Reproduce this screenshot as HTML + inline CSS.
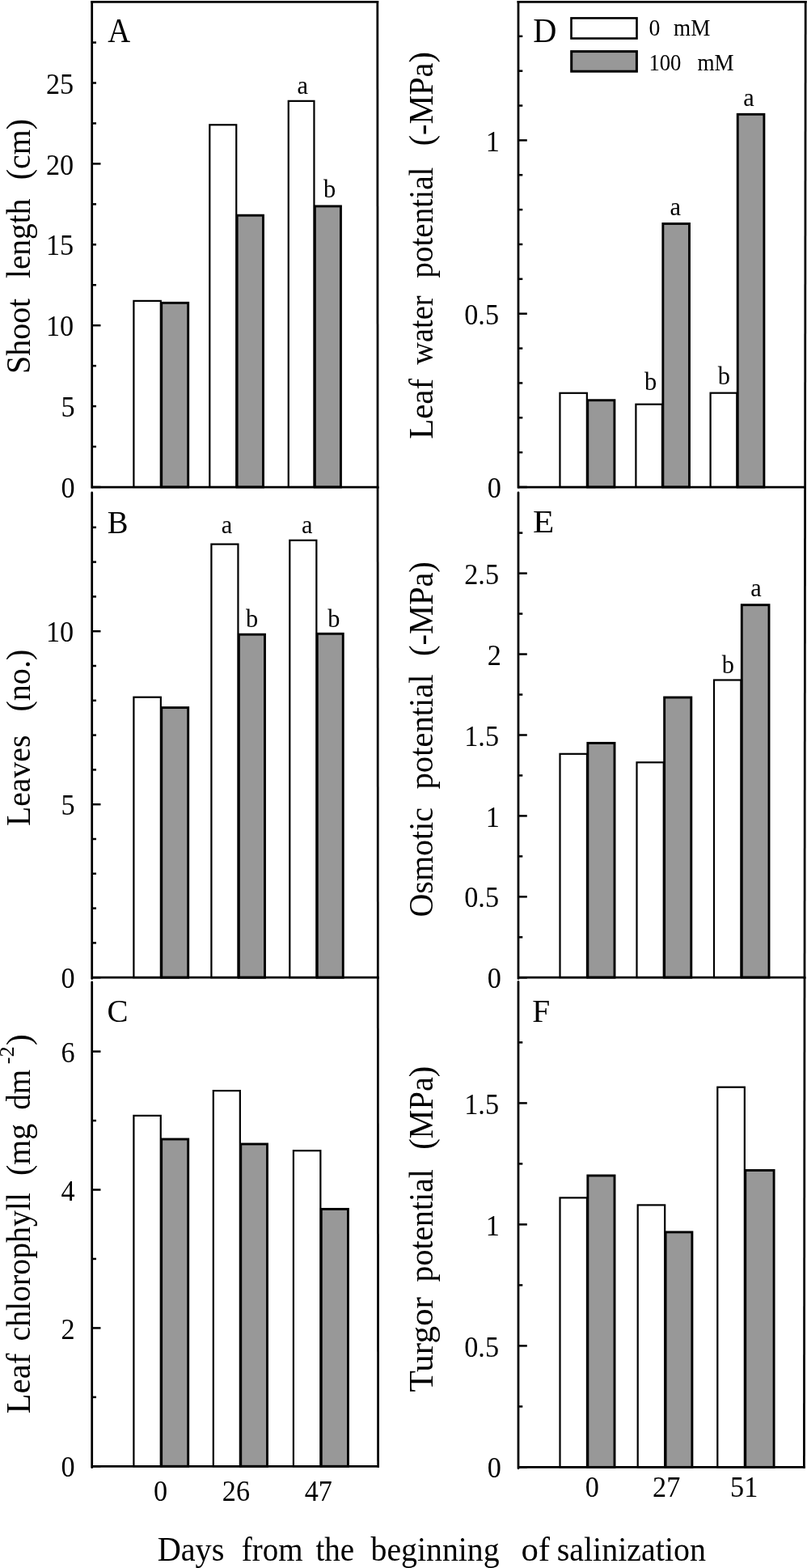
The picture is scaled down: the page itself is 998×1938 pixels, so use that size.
<!DOCTYPE html>
<html><head><meta charset="utf-8"><title>Figure</title>
<style>
html,body{margin:0;padding:0;background:#fff;}
svg{display:block;}
svg text{font-family:"Liberation Serif",serif;fill:#000;}
</style></head><body>
<svg width="998" height="1938" viewBox="0 0 998 1938">
<rect x="0" y="0" width="998" height="1938" fill="#fff"/>
<rect x="165.40" y="371.90" width="33.40" height="230.10" fill="#fff" stroke="#000" stroke-width="2.2"/>
<rect x="259.30" y="154.30" width="32.95" height="447.70" fill="#fff" stroke="#000" stroke-width="2.2"/>
<rect x="356.75" y="124.85" width="31.70" height="477.15" fill="#fff" stroke="#000" stroke-width="2.2"/>
<rect x="199.70" y="374.35" width="33.00" height="227.65" fill="#989898" stroke="#000" stroke-width="2.9"/>
<rect x="293.15" y="266.20" width="32.35" height="335.80" fill="#989898" stroke="#000" stroke-width="2.9"/>
<rect x="389.35" y="254.90" width="32.10" height="347.10" fill="#989898" stroke="#000" stroke-width="2.9"/>
<line x1="113.70" y1="0.92" x2="113.70" y2="603.38" stroke="#000" stroke-width="2.75" stroke-linecap="butt"/>
<line x1="466.80" y1="0.92" x2="467.06" y2="603.38" stroke="#000" stroke-width="2.75" stroke-linecap="butt"/>
<line x1="112.33" y1="2.30" x2="468.17" y2="2.30" stroke="#000" stroke-width="2.75" stroke-linecap="butt"/>
<line x1="112.92" y1="602.00" x2="468.44" y2="602.00" stroke="#000" stroke-width="2.75" stroke-linecap="butt"/>
<line x1="113.70" y1="602.00" x2="124.50" y2="602.00" stroke="#000" stroke-width="2.5" stroke-linecap="butt"/>
<text transform="translate(92.60,614.50) scale(0.9500,1)" text-anchor="end" font-size="36">0</text>
<line x1="113.70" y1="552.05" x2="119.00" y2="552.05" stroke="#000" stroke-width="2.5" stroke-linecap="butt"/>
<line x1="113.70" y1="502.10" x2="119.00" y2="502.10" stroke="#000" stroke-width="2.5" stroke-linecap="butt"/>
<text transform="translate(92.60,515.20) scale(0.9500,1)" text-anchor="end" font-size="36">5</text>
<line x1="113.70" y1="452.15" x2="119.00" y2="452.15" stroke="#000" stroke-width="2.5" stroke-linecap="butt"/>
<line x1="113.70" y1="402.20" x2="124.50" y2="402.20" stroke="#000" stroke-width="2.5" stroke-linecap="butt"/>
<text transform="translate(91.10,415.30) scale(0.9500,1)" text-anchor="end" font-size="36">10</text>
<line x1="113.70" y1="352.25" x2="119.00" y2="352.25" stroke="#000" stroke-width="2.5" stroke-linecap="butt"/>
<line x1="113.70" y1="302.30" x2="119.00" y2="302.30" stroke="#000" stroke-width="2.5" stroke-linecap="butt"/>
<text transform="translate(91.10,315.40) scale(0.9500,1)" text-anchor="end" font-size="36">15</text>
<line x1="113.70" y1="252.35" x2="119.00" y2="252.35" stroke="#000" stroke-width="2.5" stroke-linecap="butt"/>
<line x1="113.70" y1="202.40" x2="124.50" y2="202.40" stroke="#000" stroke-width="2.5" stroke-linecap="butt"/>
<text transform="translate(91.10,215.50) scale(0.9500,1)" text-anchor="end" font-size="36">20</text>
<line x1="113.70" y1="152.45" x2="119.00" y2="152.45" stroke="#000" stroke-width="2.5" stroke-linecap="butt"/>
<line x1="113.70" y1="102.50" x2="119.00" y2="102.50" stroke="#000" stroke-width="2.5" stroke-linecap="butt"/>
<text transform="translate(91.10,115.60) scale(0.9500,1)" text-anchor="end" font-size="36">25</text>
<line x1="113.70" y1="52.55" x2="119.00" y2="52.55" stroke="#000" stroke-width="2.5" stroke-linecap="butt"/>
<rect x="165.40" y="861.70" width="33.45" height="346.50" fill="#fff" stroke="#000" stroke-width="2.2"/>
<rect x="261.40" y="672.60" width="33.05" height="535.60" fill="#fff" stroke="#000" stroke-width="2.2"/>
<rect x="358.30" y="667.80" width="33.05" height="540.40" fill="#fff" stroke="#000" stroke-width="2.2"/>
<rect x="199.75" y="874.60" width="32.95" height="333.60" fill="#989898" stroke="#000" stroke-width="2.9"/>
<rect x="295.35" y="784.20" width="32.15" height="424.00" fill="#989898" stroke="#000" stroke-width="2.9"/>
<rect x="392.25" y="783.30" width="32.00" height="424.90" fill="#989898" stroke="#000" stroke-width="2.9"/>
<line x1="113.70" y1="608.95" x2="113.70" y2="1209.58" stroke="#000" stroke-width="2.75" stroke-linecap="round"/>
<line x1="467.06" y1="602.00" x2="467.33" y2="1209.58" stroke="#000" stroke-width="2.75" stroke-linecap="butt"/>
<line x1="112.92" y1="1208.20" x2="468.71" y2="1208.20" stroke="#000" stroke-width="2.75" stroke-linecap="butt"/>
<line x1="113.70" y1="1208.20" x2="124.50" y2="1208.20" stroke="#000" stroke-width="2.5" stroke-linecap="butt"/>
<text transform="translate(92.60,1220.70) scale(0.9500,1)" text-anchor="end" font-size="36">0</text>
<line x1="113.70" y1="1165.40" x2="119.00" y2="1165.40" stroke="#000" stroke-width="2.5" stroke-linecap="butt"/>
<line x1="113.70" y1="1122.60" x2="119.00" y2="1122.60" stroke="#000" stroke-width="2.5" stroke-linecap="butt"/>
<line x1="113.70" y1="1079.80" x2="119.00" y2="1079.80" stroke="#000" stroke-width="2.5" stroke-linecap="butt"/>
<line x1="113.70" y1="1037.00" x2="119.00" y2="1037.00" stroke="#000" stroke-width="2.5" stroke-linecap="butt"/>
<line x1="113.70" y1="994.20" x2="124.50" y2="994.20" stroke="#000" stroke-width="2.5" stroke-linecap="butt"/>
<text transform="translate(92.60,1007.30) scale(0.9500,1)" text-anchor="end" font-size="36">5</text>
<line x1="113.70" y1="951.40" x2="119.00" y2="951.40" stroke="#000" stroke-width="2.5" stroke-linecap="butt"/>
<line x1="113.70" y1="908.60" x2="119.00" y2="908.60" stroke="#000" stroke-width="2.5" stroke-linecap="butt"/>
<line x1="113.70" y1="865.80" x2="119.00" y2="865.80" stroke="#000" stroke-width="2.5" stroke-linecap="butt"/>
<line x1="113.70" y1="823.00" x2="119.00" y2="823.00" stroke="#000" stroke-width="2.5" stroke-linecap="butt"/>
<line x1="113.70" y1="780.20" x2="124.50" y2="780.20" stroke="#000" stroke-width="2.5" stroke-linecap="butt"/>
<text transform="translate(91.10,793.30) scale(0.9500,1)" text-anchor="end" font-size="36">10</text>
<line x1="113.70" y1="737.40" x2="119.00" y2="737.40" stroke="#000" stroke-width="2.5" stroke-linecap="butt"/>
<line x1="113.70" y1="694.60" x2="119.00" y2="694.60" stroke="#000" stroke-width="2.5" stroke-linecap="butt"/>
<line x1="113.70" y1="651.80" x2="119.00" y2="651.80" stroke="#000" stroke-width="2.5" stroke-linecap="butt"/>
<rect x="165.40" y="1378.90" width="33.35" height="433.40" fill="#fff" stroke="#000" stroke-width="2.2"/>
<rect x="263.80" y="1348.10" width="33.05" height="464.20" fill="#fff" stroke="#000" stroke-width="2.2"/>
<rect x="362.90" y="1422.20" width="33.45" height="390.10" fill="#fff" stroke="#000" stroke-width="2.2"/>
<rect x="199.65" y="1408.00" width="33.05" height="404.30" fill="#989898" stroke="#000" stroke-width="2.9"/>
<rect x="297.75" y="1414.00" width="32.75" height="398.30" fill="#989898" stroke="#000" stroke-width="2.9"/>
<rect x="397.25" y="1494.40" width="33.20" height="317.90" fill="#989898" stroke="#000" stroke-width="2.9"/>
<line x1="113.70" y1="1213.95" x2="113.70" y2="1813.67" stroke="#000" stroke-width="2.75" stroke-linecap="round"/>
<line x1="467.33" y1="1208.20" x2="467.60" y2="1813.67" stroke="#000" stroke-width="2.75" stroke-linecap="butt"/>
<line x1="112.92" y1="1812.30" x2="468.97" y2="1812.30" stroke="#000" stroke-width="2.75" stroke-linecap="butt"/>
<line x1="113.70" y1="1812.30" x2="124.50" y2="1812.30" stroke="#000" stroke-width="2.5" stroke-linecap="butt"/>
<text transform="translate(92.60,1824.80) scale(0.9500,1)" text-anchor="end" font-size="36">0</text>
<line x1="113.70" y1="1726.85" x2="119.00" y2="1726.85" stroke="#000" stroke-width="2.5" stroke-linecap="butt"/>
<line x1="113.70" y1="1641.40" x2="124.50" y2="1641.40" stroke="#000" stroke-width="2.5" stroke-linecap="butt"/>
<text transform="translate(92.60,1654.50) scale(0.9500,1)" text-anchor="end" font-size="36">2</text>
<line x1="113.70" y1="1555.95" x2="119.00" y2="1555.95" stroke="#000" stroke-width="2.5" stroke-linecap="butt"/>
<line x1="113.70" y1="1470.50" x2="124.50" y2="1470.50" stroke="#000" stroke-width="2.5" stroke-linecap="butt"/>
<text transform="translate(92.60,1483.60) scale(0.9500,1)" text-anchor="end" font-size="36">4</text>
<line x1="113.70" y1="1385.05" x2="119.00" y2="1385.05" stroke="#000" stroke-width="2.5" stroke-linecap="butt"/>
<line x1="113.70" y1="1299.60" x2="124.50" y2="1299.60" stroke="#000" stroke-width="2.5" stroke-linecap="butt"/>
<text transform="translate(92.60,1312.70) scale(0.9500,1)" text-anchor="end" font-size="36">6</text>
<rect x="692.45" y="485.80" width="33.40" height="116.20" fill="#fff" stroke="#000" stroke-width="2.2"/>
<rect x="786.40" y="499.70" width="32.55" height="102.30" fill="#fff" stroke="#000" stroke-width="2.2"/>
<rect x="878.60" y="485.70" width="32.75" height="116.30" fill="#fff" stroke="#000" stroke-width="2.2"/>
<rect x="726.75" y="494.70" width="33.15" height="107.30" fill="#989898" stroke="#000" stroke-width="2.9"/>
<rect x="819.85" y="276.50" width="32.65" height="325.50" fill="#989898" stroke="#000" stroke-width="2.9"/>
<rect x="912.25" y="141.30" width="32.65" height="460.70" fill="#989898" stroke="#000" stroke-width="2.9"/>
<line x1="641.00" y1="0.92" x2="641.00" y2="603.38" stroke="#000" stroke-width="2.75" stroke-linecap="butt"/>
<line x1="996.20" y1="0.92" x2="995.60" y2="603.38" stroke="#000" stroke-width="2.75" stroke-linecap="butt"/>
<line x1="639.62" y1="2.30" x2="997.58" y2="2.30" stroke="#000" stroke-width="2.75" stroke-linecap="butt"/>
<line x1="640.23" y1="602.00" x2="996.98" y2="602.00" stroke="#000" stroke-width="2.75" stroke-linecap="butt"/>
<line x1="641.00" y1="602.00" x2="651.80" y2="602.00" stroke="#000" stroke-width="2.5" stroke-linecap="butt"/>
<text transform="translate(619.90,614.50) scale(0.9500,1)" text-anchor="end" font-size="36">0</text>
<line x1="641.00" y1="559.14" x2="646.30" y2="559.14" stroke="#000" stroke-width="2.5" stroke-linecap="butt"/>
<line x1="641.00" y1="516.28" x2="646.30" y2="516.28" stroke="#000" stroke-width="2.5" stroke-linecap="butt"/>
<line x1="641.00" y1="473.42" x2="646.30" y2="473.42" stroke="#000" stroke-width="2.5" stroke-linecap="butt"/>
<line x1="641.00" y1="430.56" x2="646.30" y2="430.56" stroke="#000" stroke-width="2.5" stroke-linecap="butt"/>
<line x1="641.00" y1="387.70" x2="651.80" y2="387.70" stroke="#000" stroke-width="2.5" stroke-linecap="butt"/>
<text transform="translate(617.00,400.80) scale(0.9500,1)" text-anchor="end" font-size="36">0.5</text>
<line x1="641.00" y1="344.84" x2="646.30" y2="344.84" stroke="#000" stroke-width="2.5" stroke-linecap="butt"/>
<line x1="641.00" y1="301.98" x2="646.30" y2="301.98" stroke="#000" stroke-width="2.5" stroke-linecap="butt"/>
<line x1="641.00" y1="259.12" x2="646.30" y2="259.12" stroke="#000" stroke-width="2.5" stroke-linecap="butt"/>
<line x1="641.00" y1="216.26" x2="646.30" y2="216.26" stroke="#000" stroke-width="2.5" stroke-linecap="butt"/>
<line x1="641.00" y1="173.40" x2="651.80" y2="173.40" stroke="#000" stroke-width="2.5" stroke-linecap="butt"/>
<line x1="641.00" y1="130.54" x2="646.30" y2="130.54" stroke="#000" stroke-width="2.5" stroke-linecap="butt"/>
<line x1="641.00" y1="87.68" x2="646.30" y2="87.68" stroke="#000" stroke-width="2.5" stroke-linecap="butt"/>
<line x1="641.00" y1="44.82" x2="646.30" y2="44.82" stroke="#000" stroke-width="2.5" stroke-linecap="butt"/>
<rect x="692.50" y="931.80" width="33.45" height="276.30" fill="#fff" stroke="#000" stroke-width="2.2"/>
<rect x="787.50" y="942.30" width="33.25" height="265.80" fill="#fff" stroke="#000" stroke-width="2.2"/>
<rect x="883.00" y="840.50" width="33.40" height="367.60" fill="#fff" stroke="#000" stroke-width="2.2"/>
<rect x="726.85" y="918.40" width="33.15" height="289.70" fill="#989898" stroke="#000" stroke-width="2.9"/>
<rect x="821.65" y="862.00" width="33.15" height="346.10" fill="#989898" stroke="#000" stroke-width="2.9"/>
<rect x="917.30" y="747.70" width="33.70" height="460.40" fill="#989898" stroke="#000" stroke-width="2.9"/>
<line x1="641.00" y1="608.75" x2="641.00" y2="1209.47" stroke="#000" stroke-width="2.75" stroke-linecap="round"/>
<line x1="995.60" y1="602.00" x2="995.00" y2="1209.47" stroke="#000" stroke-width="2.75" stroke-linecap="butt"/>
<line x1="640.23" y1="1208.10" x2="996.38" y2="1208.10" stroke="#000" stroke-width="2.75" stroke-linecap="butt"/>
<line x1="641.00" y1="1208.30" x2="651.80" y2="1208.30" stroke="#000" stroke-width="2.5" stroke-linecap="butt"/>
<text transform="translate(619.90,1220.60) scale(0.9500,1)" text-anchor="end" font-size="36">0</text>
<line x1="641.00" y1="1158.33" x2="646.30" y2="1158.33" stroke="#000" stroke-width="2.5" stroke-linecap="butt"/>
<line x1="641.00" y1="1108.36" x2="651.80" y2="1108.36" stroke="#000" stroke-width="2.5" stroke-linecap="butt"/>
<text transform="translate(617.00,1121.46) scale(0.9500,1)" text-anchor="end" font-size="36">0.5</text>
<line x1="641.00" y1="1058.39" x2="646.30" y2="1058.39" stroke="#000" stroke-width="2.5" stroke-linecap="butt"/>
<line x1="641.00" y1="1008.42" x2="651.80" y2="1008.42" stroke="#000" stroke-width="2.5" stroke-linecap="butt"/>
<line x1="641.00" y1="958.45" x2="646.30" y2="958.45" stroke="#000" stroke-width="2.5" stroke-linecap="butt"/>
<line x1="641.00" y1="908.48" x2="651.80" y2="908.48" stroke="#000" stroke-width="2.5" stroke-linecap="butt"/>
<text transform="translate(617.00,921.58) scale(0.9500,1)" text-anchor="end" font-size="36">1.5</text>
<line x1="641.00" y1="858.51" x2="646.30" y2="858.51" stroke="#000" stroke-width="2.5" stroke-linecap="butt"/>
<line x1="641.00" y1="808.54" x2="651.80" y2="808.54" stroke="#000" stroke-width="2.5" stroke-linecap="butt"/>
<text transform="translate(619.90,821.64) scale(0.9500,1)" text-anchor="end" font-size="36">2</text>
<line x1="641.00" y1="758.57" x2="646.30" y2="758.57" stroke="#000" stroke-width="2.5" stroke-linecap="butt"/>
<line x1="641.00" y1="708.60" x2="651.80" y2="708.60" stroke="#000" stroke-width="2.5" stroke-linecap="butt"/>
<text transform="translate(617.00,721.70) scale(0.9500,1)" text-anchor="end" font-size="36">2.5</text>
<line x1="641.00" y1="658.63" x2="646.30" y2="658.63" stroke="#000" stroke-width="2.5" stroke-linecap="butt"/>
<rect x="692.50" y="1480.40" width="33.45" height="333.00" fill="#fff" stroke="#000" stroke-width="2.2"/>
<rect x="788.70" y="1489.40" width="33.50" height="324.00" fill="#fff" stroke="#000" stroke-width="2.2"/>
<rect x="887.30" y="1343.70" width="33.55" height="469.70" fill="#fff" stroke="#000" stroke-width="2.2"/>
<rect x="726.85" y="1453.00" width="33.15" height="360.40" fill="#989898" stroke="#000" stroke-width="2.9"/>
<rect x="823.10" y="1522.90" width="32.80" height="290.50" fill="#989898" stroke="#000" stroke-width="2.9"/>
<rect x="921.75" y="1446.50" width="35.35" height="366.90" fill="#989898" stroke="#000" stroke-width="2.9"/>
<line x1="641.00" y1="1213.45" x2="641.00" y2="1814.78" stroke="#000" stroke-width="2.75" stroke-linecap="round"/>
<line x1="995.00" y1="1208.10" x2="994.40" y2="1814.78" stroke="#000" stroke-width="2.75" stroke-linecap="butt"/>
<line x1="640.23" y1="1813.40" x2="995.77" y2="1813.40" stroke="#000" stroke-width="2.75" stroke-linecap="butt"/>
<line x1="641.00" y1="1813.40" x2="651.80" y2="1813.40" stroke="#000" stroke-width="2.5" stroke-linecap="butt"/>
<text transform="translate(619.90,1825.90) scale(0.9500,1)" text-anchor="end" font-size="36">0</text>
<line x1="641.00" y1="1738.40" x2="646.30" y2="1738.40" stroke="#000" stroke-width="2.5" stroke-linecap="butt"/>
<line x1="641.00" y1="1663.40" x2="651.80" y2="1663.40" stroke="#000" stroke-width="2.5" stroke-linecap="butt"/>
<text transform="translate(617.00,1676.50) scale(0.9500,1)" text-anchor="end" font-size="36">0.5</text>
<line x1="641.00" y1="1588.40" x2="646.30" y2="1588.40" stroke="#000" stroke-width="2.5" stroke-linecap="butt"/>
<line x1="641.00" y1="1513.40" x2="651.80" y2="1513.40" stroke="#000" stroke-width="2.5" stroke-linecap="butt"/>
<line x1="641.00" y1="1438.40" x2="646.30" y2="1438.40" stroke="#000" stroke-width="2.5" stroke-linecap="butt"/>
<line x1="641.00" y1="1363.40" x2="651.80" y2="1363.40" stroke="#000" stroke-width="2.5" stroke-linecap="butt"/>
<text transform="translate(617.00,1376.50) scale(0.9500,1)" text-anchor="end" font-size="36">1.5</text>
<line x1="641.00" y1="1288.40" x2="646.30" y2="1288.40" stroke="#000" stroke-width="2.5" stroke-linecap="butt"/>
<rect x="706.5" y="22.4" width="81.0" height="25.1" fill="#fff" stroke="#000" stroke-width="2.6"/>
<rect x="706.7" y="63.6" width="80.7" height="24.6" fill="#989898" stroke="#000" stroke-width="3.0"/>
<text transform="translate(367.60,116.3) scale(0.9800,1)" font-size="31">a</text>
<text transform="translate(400.10,243.8) scale(0.9800,1)" font-size="31">b</text>
<text transform="translate(133.20,52) scale(0.9200,1)" font-size="42">A</text>
<text transform="translate(273.65,658.6) scale(0.9800,1)" font-size="31">a</text>
<text transform="translate(372.95,658.6) scale(0.9800,1)" font-size="31">a</text>
<text transform="translate(303.95,774.5) scale(0.9800,1)" font-size="31">b</text>
<text transform="translate(405.15,774.5) scale(0.9800,1)" font-size="31">b</text>
<text transform="translate(132.66,658.7) scale(0.9440,1)" font-size="41">B</text>
<text transform="translate(132.45,1263) scale(0.9500,1)" font-size="41">C</text>
<text transform="translate(600.80,186.49999999999997) scale(0.9500,1)" font-size="36">1</text>
<text transform="translate(828.45,266.3) scale(0.9800,1)" font-size="31">a</text>
<text transform="translate(919.25,130.5) scale(0.9800,1)" font-size="31">a</text>
<text transform="translate(797.05,482.1) scale(0.9800,1)" font-size="31">b</text>
<text transform="translate(887.85,474.6) scale(0.9800,1)" font-size="31">b</text>
<text transform="translate(659.13,51.6) scale(0.9714,1)" font-size="41.5">D</text>
<text transform="translate(600.80,1021.52) scale(0.9500,1)" font-size="36">1</text>
<text transform="translate(928.25,737.2) scale(0.9800,1)" font-size="31">a</text>
<text transform="translate(892.85,832.2) scale(0.9800,1)" font-size="31">b</text>
<text transform="translate(659.05,658.2) scale(1.0500,1)" font-size="41">E</text>
<text transform="translate(600.80,1526.5) scale(0.9500,1)" font-size="36">1</text>
<text transform="translate(658.14,1262.6) scale(0.9619,1)" font-size="41">F</text>
<text transform="translate(802.42,43.9) scale(0.9750,1)" font-size="28.5">0</text>
<text transform="translate(833.10,44.4) scale(0.9532,1)" font-size="28.5">mM</text>
<text transform="translate(802.42,86.5) scale(0.9375,1)" font-size="28.5">100</text>
<text transform="translate(862.40,86.8) scale(0.9511,1)" font-size="28.5">mM</text>
<text transform="translate(189.90,1855) scale(0.9500,1)" font-size="36">0</text>
<text transform="translate(274.85,1855) scale(0.9500,1)" font-size="36">26</text>
<text transform="translate(376.77,1855) scale(0.9500,1)" font-size="36">47</text>
<text transform="translate(723.85,1849.6) scale(0.9500,1)" font-size="36">0</text>
<text transform="translate(807.10,1849.6) scale(0.9500,1)" font-size="36">27</text>
<text transform="translate(903.10,1849.6) scale(0.9500,1)" font-size="36">51</text>
<text transform="translate(194.64,1928.6) scale(0.9595,1)" font-size="42">Days</text>
<text transform="translate(298.67,1928.6) scale(0.9287,1)" font-size="42">from</text>
<text transform="translate(390.40,1928.6) scale(0.9320,1)" font-size="42">the</text>
<text transform="translate(458.60,1928.6) scale(0.9467,1)" font-size="42">beginning</text>
<text transform="translate(644.48,1928.6) scale(1.0176,1)" font-size="42">of</text>
<text transform="translate(688.70,1928.6) scale(0.9524,1)" font-size="42">salinization</text>
<text transform="translate(37.0,461.95) rotate(-90) scale(0.9505,1)" font-size="42">Shoot</text>
<text transform="translate(37.0,344.04) rotate(-90) scale(0.9375,1)" font-size="42">length</text>
<text transform="translate(37.0,222.20) rotate(-90) scale(0.9500,1)" font-size="42">(cm)</text>
<text transform="translate(36.6,1021.05) rotate(-90) scale(0.9453,1)" font-size="42">Leaves</text>
<text transform="translate(36.6,879.61) rotate(-90) scale(0.9558,1)" font-size="42">(no.)</text>
<text transform="translate(36.7,1747.17) rotate(-90) scale(0.9671,1)" font-size="42">Leaf</text>
<text transform="translate(36.7,1657.45) rotate(-90) scale(0.9469,1)" font-size="42">chlorophyll</text>
<text transform="translate(36.7,1453.10) rotate(-90) scale(0.9492,1)" font-size="42">(mg</text>
<text transform="translate(36.7,1371.63) rotate(-90) scale(0.9288,1)" font-size="42">dm</text>
<text transform="translate(17.4,1315.36) rotate(-90) scale(1.0579,1)" font-size="25">-2</text>
<text transform="translate(36.7,1291.88) rotate(-90) scale(0.9818,1)" font-size="42">)</text>
<text transform="translate(535.0,542.77) rotate(-90) scale(0.9724,1)" font-size="42">Leaf</text>
<text transform="translate(535.0,450.70) rotate(-90) scale(0.9140,1)" font-size="42">water</text>
<text transform="translate(535.0,343.80) rotate(-90) scale(0.9342,1)" font-size="42">potential</text>
<text transform="translate(535.0,180.32) rotate(-90) scale(0.9576,1)" font-size="42">(-MPa)</text>
<text transform="translate(534.9,1133.55) rotate(-90) scale(0.9536,1)" font-size="42">Osmotic</text>
<text transform="translate(534.9,975.40) rotate(-90) scale(0.9658,1)" font-size="42">potential</text>
<text transform="translate(534.9,811.03) rotate(-90) scale(0.9636,1)" font-size="42">(-MPa)</text>
<text transform="translate(535.2,1720.53) rotate(-90) scale(1.0274,1)" font-size="42">Turgor</text>
<text transform="translate(535.2,1584.40) rotate(-90) scale(0.9479,1)" font-size="42">potential</text>
<text transform="translate(535.2,1420.82) rotate(-90) scale(0.9606,1)" font-size="42">(MPa)</text>
</svg>
</body></html>
